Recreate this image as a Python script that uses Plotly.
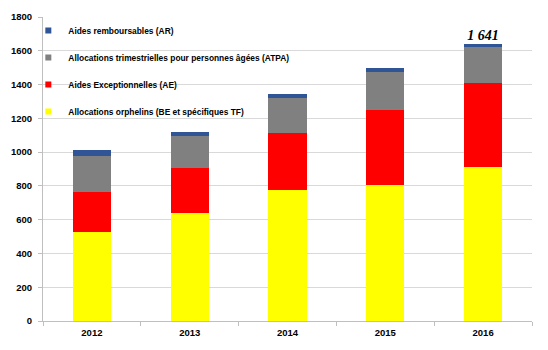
import plotly.graph_objects as go

years = ["2012", "2013", "2014", "2015", "2016"]
orphelins = [529, 638, 776, 805, 910]
exceptionnelles = [235, 266, 339, 442, 497]
atpa = [215, 193, 203, 229, 215]
remboursables = [32, 20, 24, 20, 19]
total_label = "1 641"

series = [
    ("Allocations orphelins (BE et spécifiques TF)", orphelins, "#FFFF00", 4),
    ("Aides Exceptionnelles (AE)", exceptionnelles, "#FF0000", 3),
    ("Allocations trimestrielles pour personnes âgées (ATPA)", atpa, "#808080", 2),
    ("Aides remboursables (AR)", remboursables, "#2F5597", 1),
]

fig = go.Figure()
for name, vals, col, rank in series:
    fig.add_trace(go.Bar(x=years, y=vals, name=name, marker_color=col,
                         marker_line_width=0, showlegend=False))
# legend entries with small square keys
for name, vals, col, rank in series:
    fig.add_trace(go.Scatter(x=[None], y=[None], mode="markers", name="<b>" + name + "</b>",
                             marker=dict(symbol="square", size=6, color=col),
                             legendgroup=name, legendrank=rank, showlegend=True))

totals = [sum(v) for v in zip(orphelins, exceptionnelles, atpa, remboursables)]
fig.add_trace(go.Scatter(x=[years[-1]], y=[totals[-1]], mode="text",
                         text=["<b><i>" + total_label + "</i></b>"],
                         textposition="top center", showlegend=False, hoverinfo="skip",
                         textfont=dict(family="Liberation Serif", size=14, color="black")))

fig.update_layout(
    width=548, height=350,
    margin=dict(l=43, r=16, t=17, b=29),
    barmode="stack", bargap=0.61,
    plot_bgcolor="white", paper_bgcolor="white",
    font=dict(family="Liberation Sans", size=9, color="black"),
    showlegend=True,
    legend=dict(x=-0.03, y=1.003, xanchor="left", yanchor="top",
                traceorder="grouped", tracegroupgap=8, itemsizing="trace",
                bgcolor="rgba(0,0,0,0)",
                font=dict(family="Liberation Sans", size=8.4, color="black")),
    xaxis=dict(type="category", showline=True, linecolor="#BFBFBF", ticks="outside",
               tickson="boundaries", ticklen=4, tickcolor="#BFBFBF", ticklabelstandoff=3,
               automargin=False,
               tickfont=dict(family="Liberation Sans", size=9.5, color="black", weight="bold")),
    yaxis=dict(range=[0, 1800], dtick=200, showline=True, linecolor="#BFBFBF",
               gridcolor="#D9D9D9", ticks="outside", ticklen=4, tickcolor="#BFBFBF",
               ticklabelstandoff=4,
               tickfont=dict(family="Liberation Sans", size=9.5, color="black", weight="bold")),
)
fig.write_html("out.html")
